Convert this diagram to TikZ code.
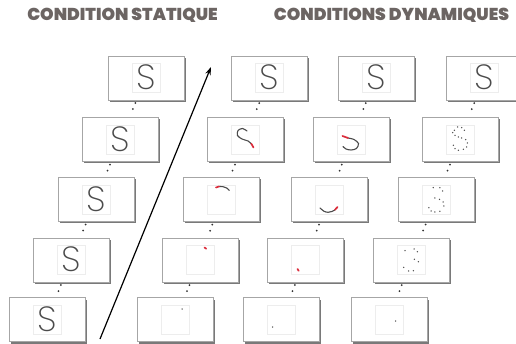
\documentclass[tikz,border=0pt]{standalone}
\usepackage{fontspec}
\usetikzlibrary{shadows,arrows.meta}
\IfFontExistsTF{Poppins ExtraBold}{\newfontfamily\titlefont{Poppins ExtraBold}}{%
  \IfFontExistsTF{Poppins Black}{\newfontfamily\titlefont{Poppins Black}}{%
    \newfontfamily\titlefont{Poppins}[BoldFeatures={FakeBold=1.3,LetterSpace=2.5}]}}
\newif\iffoundS
\newcommand\tryS[1]{\iffoundS\else\IfFontExistsTF{#1}{\newfontfamily\sfontS{#1}\foundStrue}{}\fi}
\tryS{Poppins ExtraLight}
\tryS{Poppins Light}
\tryS{Noto Sans ExtraLight}
\tryS{Noto Sans Light}
\tryS{DejaVu Sans ExtraLight}
\tryS{Lato Light}
\tryS{Open Sans Light}
\tryS{Fira Sans ExtraLight}
\tryS{Fira Sans Light}
\iffoundS\else\newfontfamily\sfontS{Fira Sans}\fi
\definecolor{titlegray}{RGB}{108,101,99}
\definecolor{strokegray}{RGB}{75,75,75}
\definecolor{redink}{RGB}{220,45,60}
\tikzset{
  cellbox/.style={draw=black!35, line width=0.6pt, fill=white, minimum width=76pt, minimum height=44pt, inner sep=0pt,
    drop shadow={shadow xshift=1.6pt, shadow yshift=-2pt, fill=black!70, opacity=0.75}},
  innersq/.style={draw=black!7, line width=0.4pt, minimum width=28pt, minimum height=29pt, inner sep=0pt},
  letter/.style={font=\sfontS\fontsize{35}{35}\selectfont, text=strokegray, inner sep=0pt, anchor=base},
  titletext/.style={font=\titlefont\bfseries\fontsize{17.2}{18}\selectfont, text=titlegray, inner sep=0pt, anchor=base},
  dotline/.style={draw=black!80, line width=2pt, line cap=round, dash pattern=on 0pt off 6.5pt, shorten <=3pt, shorten >=3pt},
  strokeS/.style={draw=strokegray, line width=1.1pt, line cap=round},
  redS/.style={draw=redink, line width=1.7pt, line cap=round},
}
\newcommand{\cell}[3]{%
  \node[cellbox] (#1) at (#2,#3) {};
  \node[innersq] (#1q) at (#2,#3) {};}
\newcommand{\fullS}[3]{\node[letter] (#1S) at (#2,#3+12) {S};}
\newcommand{\inkdot}[2]{\fill[strokegray] (#1,#2) circle (0.75pt);}
\begin{document}
\begin{tikzpicture}[x=1pt,y=-1pt]
\useasboundingbox (0,0) rectangle (516,344);
% titles
\node[titletext] (t1) at (122.5,21) {CONDITION STATIQUE};
\node[titletext] (t2) at (391.5,21) {CONDITIONS DYNAMIQUES};
% static column
\cell{s1}{146}{78}   \fullS{s1}{146}{78}
\cell{s2}{120}{139.5}\fullS{s2}{120}{139.5}
\cell{s3}{96}{199.5} \fullS{s3}{96}{199.5}
\cell{s4}{71}{260}   \fullS{s4}{71}{260}
\cell{s5}{47}{319.5} \fullS{s5}{47}{319.5}
% dynamic column 1
\cell{a1}{269}{78}   \fullS{a1}{269}{78}
\cell{a2}{245}{139.5}
\cell{a3}{221}{199.5}
\cell{a4}{200}{260}
\cell{a5}{175}{319.5}
% dynamic column 2
\cell{b1}{376}{78}   \fullS{b1}{376}{78}
\cell{b2}{351}{139.5}
\cell{b3}{329}{199.5}
\cell{b4}{305}{260}
\cell{b5}{281}{319.5}
% dynamic column 3
\cell{c1}{484}{78}   \fullS{c1}{484}{78}
\cell{c2}{460}{139.5}
\cell{c3}{436}{199.5}
\cell{c4}{411}{260}
\cell{c5}{389}{319.5}
% dotted connectors
\foreach \col in {s,a,b,c}{
  \draw[dotline] (\col1) -- (\col2);
  \draw[dotline] (\col2) -- (\col3);
  \draw[dotline] (\col3) -- (\col4);
  \draw[dotline] (\col4) -- (\col5);
}
% column a partial strokes
\begin{scope}[shift={(245,139.5)}]
  \draw[strokeS] plot[smooth] coordinates {(2,-8.5)(-2.5,-11)(-7,-9)(-7.5,-4)(-3,-0.5)(3,1.5)(6.5,4.5)};
  \draw[redS] (6.3,4.2) -- (8.5,8);
\end{scope}
\begin{scope}[shift={(221,199.5)}]
  \draw[strokeS] plot[smooth] coordinates {(-2,-13)(2,-12.8)(5.7,-11.5)(8.3,-9)};
  \draw[redS] (-5,-12) -- (-2,-13);
\end{scope}
\begin{scope}[shift={(200,260)}]
  \draw[redS] (4.5,-12.5) -- (6.2,-11.3);
\end{scope}
\begin{scope}[shift={(175,319.5)}]
  \inkdot{7}{-10.5}
\end{scope}
% column b partial strokes
\begin{scope}[shift={(351,139.5)}]
  \draw[strokeS] plot[smooth] coordinates {(-3,-1.5)(3,0)(7.5,4)(5.5,9)(0,10.5)(-5,9.5)(-8,7)};
  \draw[redS] (-8.5,-3.5) -- (-3,-1.5);
\end{scope}
\begin{scope}[shift={(329,199.5)}]
  \draw[strokeS] plot[smooth] coordinates {(-9,8.5)(-5,11.8)(-1,12.8)(3,12)(6.5,10)};
  \draw[redS] (6,10.3) -- (8.5,7.5);
\end{scope}
\begin{scope}[shift={(305,260)}]
  \draw[redS] (-7.5,9) -- (-6.3,10.8);
\end{scope}
\begin{scope}[shift={(281,319.5)}]
  \inkdot{-8.5}{7.5}
\end{scope}
% column c dotted S
\begin{scope}[shift={(460,139.5)}]
  \foreach \px/\py in {-2.3/-12.5,1.7/-11.8,4.3/-9.2,-5.7/-9.2,-7.3/-6.8,-5/-4.2,-1.7/-2.5,1.7/-1.5,5.7/0.2,7.3/3.5,6.7/7.5,3.3/9.8,-1.7/10.8,-5/9.2,-6.7/5.8}
    {\inkdot{\px}{\py}}
\end{scope}
\begin{scope}[shift={(436,199.5)}]
  \foreach \px/\py in {-2.8/-11.8,3.8/-11.8,6.5/-8.5,-1.2/-1.5,3.5/-0.2,7.2/2.5,7.8/6.5,-7.2/8.2,-4.8/11.5,-1.2/12.5,3.8/11.8}
    {\inkdot{\px}{\py}}
\end{scope}
\begin{scope}[shift={(411,260)}]
  \foreach \px/\py in {-6/-9.3,3/-11,6.3/-8.3,3.3/-0.7,7.3/1.7,-7.3/7.3,-2.3/11,2.3/10.7}
    {\inkdot{\px}{\py}}
\end{scope}
\begin{scope}[shift={(389,319.5)}]
  \inkdot{6.5}{1.5}
\end{scope}
% arrow
\coordinate (arrS) at (100,339);
\coordinate (arrE) at (211,67);
\draw[-{Stealth[length=8pt,width=5.5pt]}, line width=1.2pt] (arrS) -- (arrE);
\end{tikzpicture}
\end{document}
